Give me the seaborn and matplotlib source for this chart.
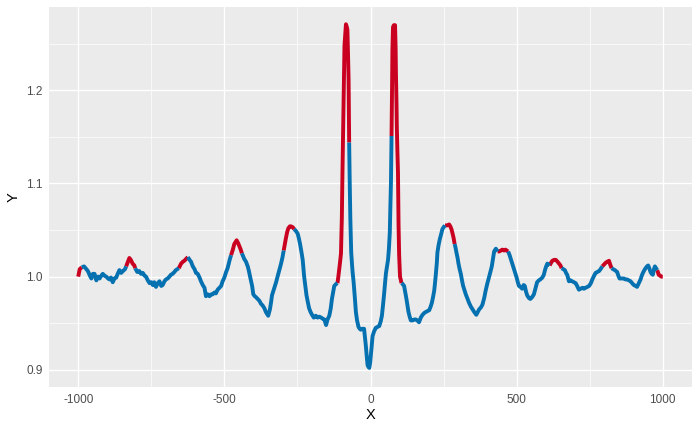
import numpy as np
import pandas as pd
import matplotlib
matplotlib.use("Agg")
import matplotlib.pyplot as plt
import seaborn as sns

# ---- data ----
x_vals = [-1000, -995, -988, -980, -972, -967, -960, -955, -950, -944, -938, -932, -927, -921, -916,
          -910, -904, -898, -893, -888, -882, -876, -870, -865, -859, -853, -847, -840, -836, -830,
          -825, -820, -814, -808, -805, -798, -791, -785, -779, -773, -768, -762, -756, -750, -745,
          -740, -734, -728, -722, -716, -711, -705, -700, -694, -688, -683, -677, -671, -666, -656,
          -648, -642, -637, -631, -625, -619, -614, -608, -602, -597, -591, -585, -580, -574, -568,
          -563, -557, -551, -545, -540, -534, -529, -523, -517, -511, -506, -500, -494, -489, -485,
          -481, -477, -471, -466, -462, -458, -453, -449, -444, -440, -436, -432, -426, -420, -416,
          -412, -405, -401, -396, -392, -386, -380, -375, -369, -363, -358, -354, -350, -344, -340,
          -337, -333, -329, -323, -318, -312, -306, -301, -297, -293, -289, -285, -281, -276, -272,
          -266, -261, -255, -249, -245, -241, -236, -232, -227, -223, -219, -214, -210, -205, -200,
          -194, -187, -181, -175, -169, -164, -158, -152, -147, -141, -136, -132, -128, -124, -118,
          -113, -110, -107, -104, -101, -98, -96, -94, -92, -89, -86, -84, -81, -79, -77,
          -75, -73, -71, -69, -66, -63, -61, -58, -56, -53, -50, -46, -41, -37, -33,
          -28, -22, -19, -16, -13, -10, -7, -4, -1, 1, 4, 7, 12, 18, 24,
          30, 35, 39, 43, 47, 50, 53, 57, 60, 63, 66, 68, 70, 72, 74,
          75, 77, 80, 84, 86, 87, 89, 90, 92, 94, 96, 98, 101, 104, 106,
          110, 115, 119, 123, 127, 130, 134, 138, 144, 150, 155, 160, 166, 172, 178,
          184, 189, 195, 201, 206, 210, 214, 218, 221, 224, 227, 229, 233, 237, 242,
          246, 250, 255, 262, 269, 273, 277, 281, 284, 288, 291, 294, 298, 301, 305,
          309, 313, 317, 322, 326, 331, 337, 343, 349, 355, 362, 367, 372, 378, 383,
          389, 394, 400, 406, 411, 415, 419, 423, 429, 435, 440, 446, 451, 457, 462,
          466, 471, 476, 480, 486, 491, 496, 500, 504, 508, 513, 519, 524, 528, 532,
          536, 542, 547, 553, 559, 565, 570, 576, 581, 588, 593, 597, 601, 605, 609,
          613, 618, 622, 628, 634, 640, 645, 650, 654, 660, 665, 669, 673, 679, 684,
          690, 696, 702, 707, 713, 719, 725, 730, 736, 742, 748, 754, 759, 765, 770,
          776, 782, 787, 793, 799, 805, 810, 816, 820, 825, 830, 836, 840, 844, 848,
          852, 860, 867, 872, 878, 884, 890, 895, 901, 907, 912, 918, 924, 928, 932,
          937, 941, 946, 950, 954, 958, 962, 966, 970, 973, 977, 981, 986, 991, 995,
          1000]
y_vals = [1.000, 1.008, 1.010, 1.011, 1.008, 1.006, 1.001, 0.998, 1.003, 1.003, 0.996, 1.000, 0.998, 1.001, 1.003,
          1.001, 1.000, 0.998, 0.997, 0.999, 0.994, 0.998, 0.999, 1.003, 1.007, 1.004, 1.006, 1.008, 1.011, 1.016,
          1.020, 1.018, 1.014, 1.012, 1.009, 1.005, 1.006, 1.003, 1.004, 1.001, 1.000, 0.996, 0.993, 0.994, 0.991,
          0.994, 0.989, 0.993, 0.995, 0.990, 0.991, 0.995, 0.997, 0.998, 1.000, 1.002, 1.003, 1.005, 1.007, 1.009,
          1.014, 1.016, 1.017, 1.019, 1.021, 1.018, 1.016, 1.011, 1.008, 1.004, 1.003, 0.999, 0.995, 0.991, 0.988,
          0.979, 0.981, 0.979, 0.981, 0.981, 0.983, 0.982, 0.986, 0.988, 0.990, 0.995, 0.999, 1.005, 1.009, 1.014,
          1.019, 1.023, 1.029, 1.035, 1.037, 1.039, 1.036, 1.033, 1.029, 1.025, 1.022, 1.019, 1.016, 1.011, 1.006,
          1.000, 0.990, 0.981, 0.979, 0.978, 0.976, 0.974, 0.971, 0.969, 0.966, 0.962, 0.960, 0.958, 0.965, 0.973,
          0.980, 0.984, 0.988, 0.994, 1.000, 1.007, 1.014, 1.021, 1.028, 1.035, 1.042, 1.048, 1.052, 1.054, 1.054,
          1.053, 1.051, 1.049, 1.046, 1.041, 1.035, 1.026, 1.018, 1.000, 0.990, 0.980, 0.972, 0.966, 0.962, 0.959,
          0.956, 0.958, 0.956, 0.957, 0.956, 0.955, 0.954, 0.948, 0.954, 0.958, 0.966, 0.976, 0.983, 0.990, 0.992,
          0.993, 1.000, 1.008, 1.016, 1.025, 1.064, 1.110, 1.150, 1.190, 1.248, 1.262, 1.271, 1.268, 1.265, 1.240,
          1.212, 1.144, 1.100, 1.062, 1.026, 1.012, 1.004, 0.995, 0.987, 0.975, 0.962, 0.953, 0.946, 0.944, 0.943,
          0.944, 0.944, 0.935, 0.926, 0.915, 0.905, 0.903, 0.902, 0.908, 0.915, 0.925, 0.936, 0.941, 0.945, 0.946,
          0.947, 0.952, 0.958, 0.970, 0.983, 0.994, 1.004, 1.012, 1.018, 1.030, 1.047, 1.075, 1.101, 1.151, 1.210,
          1.244, 1.268, 1.270, 1.270, 1.245, 1.219, 1.185, 1.162, 1.135, 1.112, 1.055, 1.023, 1.000, 0.996, 0.993,
          0.992, 0.990, 0.983, 0.976, 0.968, 0.962, 0.957, 0.953, 0.953, 0.954, 0.954, 0.953, 0.951, 0.956, 0.959,
          0.961, 0.962, 0.963, 0.964, 0.968, 0.972, 0.978, 0.985, 0.994, 1.004, 1.015, 1.026, 1.034, 1.040, 1.046,
          1.051, 1.053, 1.055, 1.055, 1.056, 1.054, 1.051, 1.046, 1.042, 1.035, 1.031, 1.026, 1.020, 1.014, 1.008,
          1.003, 0.996, 0.990, 0.985, 0.981, 0.977, 0.972, 0.968, 0.965, 0.962, 0.959, 0.962, 0.965, 0.967, 0.970,
          0.977, 0.985, 0.993, 1.000, 1.006, 1.011, 1.019, 1.027, 1.030, 1.027, 1.027, 1.028, 1.029, 1.028, 1.029,
          1.028, 1.027, 1.023, 1.019, 1.013, 1.008, 1.003, 0.999, 0.994, 0.990, 0.989, 0.987, 0.991, 0.990, 0.984,
          0.980, 0.977, 0.976, 0.978, 0.981, 0.988, 0.994, 0.996, 0.997, 0.999, 1.002, 1.007, 1.011, 1.014, 1.013,
          1.012, 1.015, 1.017, 1.018, 1.018, 1.016, 1.014, 1.012, 1.009, 1.008, 1.007, 1.004, 1.002, 0.995, 0.996,
          0.995, 0.994, 0.993, 0.990, 0.986, 0.987, 0.988, 0.987, 0.988, 0.989, 0.990, 0.993, 0.997, 1.001, 1.004,
          1.005, 1.006, 1.008, 1.011, 1.013, 1.015, 1.016, 1.017, 1.013, 1.009, 1.008, 1.007, 1.006, 1.005, 1.001,
          0.998, 0.998, 0.998, 0.997, 0.997, 0.996, 0.995, 0.993, 0.991, 0.990, 0.989, 0.993, 0.997, 1.001, 1.004,
          1.007, 1.009, 1.011, 1.012, 1.009, 1.005, 1.003, 1.002, 1.008, 1.011, 1.009, 1.007, 1.002, 1.001, 1.000,
          1.000]

# intervals of X where the line is drawn in red
red_from = [-1000, -836, -656, -477, -297, -113, 72, 255, 435, 613, 793, 981]
red_to = [-988, -805, -625, -440, -261, -73, 106, 288, 471, 654, 825, 1000]

BLUE = "#0571B0"
RED = "#CA0020"

# ---- build runs of same colour ----
x = np.array(x_vals, dtype=float)
y = np.array(y_vals, dtype=float)
seg_red = []
for i in range(len(x) - 1):
    r = any(a <= x[i] and x[i + 1] <= b for a, b in zip(red_from, red_to))
    seg_red.append(r)

rows = []
run = 0
start = 0
for i in range(1, len(seg_red) + 1):
    if i == len(seg_red) or seg_red[i] != seg_red[start]:
        col = "red" if seg_red[start] else "blue"
        for j in range(start, i + 1):
            rows.append((x[j], y[j], run, col))
        run += 1
        start = i
df = pd.DataFrame(rows, columns=["X", "Y", "run", "col"])

# ---- plot ----
sns.set_theme(style="darkgrid")
plt.rcParams["font.family"] = ["Liberation Sans", "DejaVu Sans"]
plt.rcParams["axes.unicode_minus"] = False

fig = plt.figure(figsize=(7, 4.32), dpi=100)
ax = fig.add_axes([49 / 700, 1 - 387 / 432, (692 - 49) / 700, (387 - 7) / 432])
ax.set_facecolor("#EBEBEB")

sns.lineplot(data=df, x="X", y="Y", hue="col", units="run", estimator=None,
             palette={"blue": BLUE, "red": RED}, legend=False, linewidth=2.8,
             sort=False, ax=ax)
for ln in ax.get_lines():
    ln.set_solid_capstyle("butt")

ax.set_xlim(-1100, 1100)
ax.set_ylim(0.8815, 1.2895)
ax.set_xticks([-1000, -500, 0, 500, 1000])
ax.set_xticklabels(["-1000", "-500", "0", "500", "1000"])
ax.set_xticks([-750, -250, 250, 750], minor=True)
ax.set_yticks([0.9, 1.0, 1.1, 1.2])
ax.set_yticklabels(["0.9", "1.0", "1.1", "1.2"])
ax.set_yticks([0.95, 1.05, 1.15, 1.25], minor=True)

ax.grid(which="major", color="white", linewidth=1.0)
ax.grid(which="minor", color="white", linewidth=0.5)
ax.set_axisbelow(True)
for s in ax.spines.values():
    s.set_visible(False)

ax.tick_params(which="major", length=2.7, width=0.7, color="#333333",
               labelsize=8.5, labelcolor="#4D4D4D", pad=2)
ax.tick_params(which="minor", length=0)

ax.set_xlabel("X", fontsize=10.5, color="black", labelpad=2)
ax.set_ylabel("Y", fontsize=10.5, color="black", labelpad=4)

fig.savefig("out.png", dpi=100)
